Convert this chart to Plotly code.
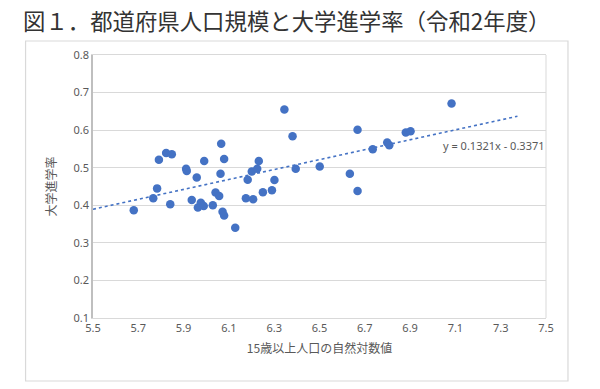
import plotly.graph_objects as go

# Data: natural log of population aged 15+ (x) and university enrollment rate (y)
log_pop = [5.680, 5.766, 5.783, 5.791, 5.823, 5.848, 5.841, 5.911, 5.914, 5.936,
           5.958, 5.963, 5.976, 5.989, 5.991, 6.029, 6.041, 6.057, 6.063, 6.066,
           6.072, 6.079, 6.079, 6.128, 6.175, 6.183, 6.201, 6.207, 6.225, 6.232,
           6.250, 6.290, 6.301, 6.345, 6.381, 6.395, 6.501, 6.634, 6.668, 6.668,
           6.735, 6.799, 6.808, 6.881, 6.902, 7.083]
univ_rate = [0.387, 0.419, 0.445, 0.521, 0.539, 0.536, 0.403, 0.497, 0.491, 0.414,
             0.474, 0.394, 0.407, 0.398, 0.518, 0.400, 0.434, 0.425, 0.484, 0.564,
             0.383, 0.373, 0.523, 0.340, 0.419, 0.468, 0.490, 0.416, 0.497, 0.518,
             0.435, 0.440, 0.467, 0.655, 0.584, 0.497, 0.503, 0.484, 0.601, 0.438,
             0.549, 0.567, 0.560, 0.594, 0.597, 0.671]

slope = 0.1321
intercept = -0.3371
trend_x = [5.5, 7.374]
trend_y = [slope * v + intercept for v in trend_x]
eq_text = "y = 0.1321x - 0.3371"

x_ticks = [5.5, 5.7, 5.9, 6.1, 6.3, 6.5, 6.7, 6.9, 7.1, 7.3, 7.5]
y_ticks = [0.1, 0.2, 0.3, 0.4, 0.5, 0.6, 0.7, 0.8]

title_text = "図１．都道府県人口規模と大学進学率（令和2年度）"
x_title = "15歳以上人口の自然対数値"
y_title = "大学進学率"

W, H = 600, 389
L, R, T, B = 92.5, 54, 55, 71
pw, ph = W - L - R, H - T - B

def px2paper_x(px):
    return (px - L) / pw

def px2paper_y(py):
    return (H - B - py) / ph

blue = "#4472C4"
gray_text = "#595959"
jp_font = "Noto Sans CJK JP"

fig = go.Figure()
fig.add_trace(go.Scatter(x=trend_x, y=trend_y, mode="lines",
                         line=dict(color=blue, width=1.6, dash="dot"),
                         hoverinfo="skip", showlegend=False))
fig.add_trace(go.Scatter(x=log_pop, y=univ_rate, mode="markers",
                         marker=dict(color=blue, size=8.5, line=dict(width=0)),
                         showlegend=False))

fig.add_annotation(x=7.037, y=0.558, xref="x", yref="y", text=eq_text,
                   showarrow=False, xanchor="left", yanchor="middle",
                   font=dict(family="Noto Sans", size=11, color=gray_text))

# chart area border
fig.add_shape(type="rect", xref="paper", yref="paper",
              x0=px2paper_x(25), x1=px2paper_x(568),
              y0=px2paper_y(381), y1=px2paper_y(41),
              line=dict(color="#d9d9d9", width=1.2), layer="below")

fig.add_annotation(x=px2paper_x(20), y=px2paper_y(20), xref="paper", yref="paper",
                   text=title_text, showarrow=False, xanchor="left", yanchor="middle",
                   font=dict(family=jp_font, size=22.4, color="#333333"))

fig.update_layout(
    width=W, height=H,
    margin=dict(l=L, r=R, t=T, b=B, autoexpand=False),
    paper_bgcolor="white", plot_bgcolor="white",
    font=dict(family="Noto Sans", color=gray_text, size=11),
)
fig.update_xaxes(range=[5.5, 7.5], tickvals=x_ticks, ticktext=[f"{v:.1f}" for v in x_ticks],
                 showgrid=False, zeroline=False, showline=True, linecolor="#d9d9d9",
                 linewidth=1, mirror=True, ticks="", ticklen=0,
                 tickfont=dict(size=11, color=gray_text),
                 title=dict(text=x_title, font=dict(family=jp_font, size=12, color=gray_text),
                            standoff=10))
fig.update_yaxes(range=[0.1, 0.8], tickvals=y_ticks, ticktext=[f"{v:.1f}" for v in y_ticks],
                 showgrid=True, gridcolor="#d9d9d9", gridwidth=1, zeroline=False,
                 showline=True, linecolor="#bfbfbf", linewidth=1.5, mirror=False,
                 ticks="", tickfont=dict(size=11, color=gray_text),
                 title=dict(text=y_title, font=dict(family=jp_font, size=12, color=gray_text),
                            standoff=14))
# right plot border
fig.add_shape(type="line", xref="paper", yref="paper", x0=1, x1=1, y0=0, y1=1,
              line=dict(color="#d9d9d9", width=1), layer="below")

fig.write_html("out.html", config={"displayModeBar": False},
               post_script="document.body.style.margin='0';")
